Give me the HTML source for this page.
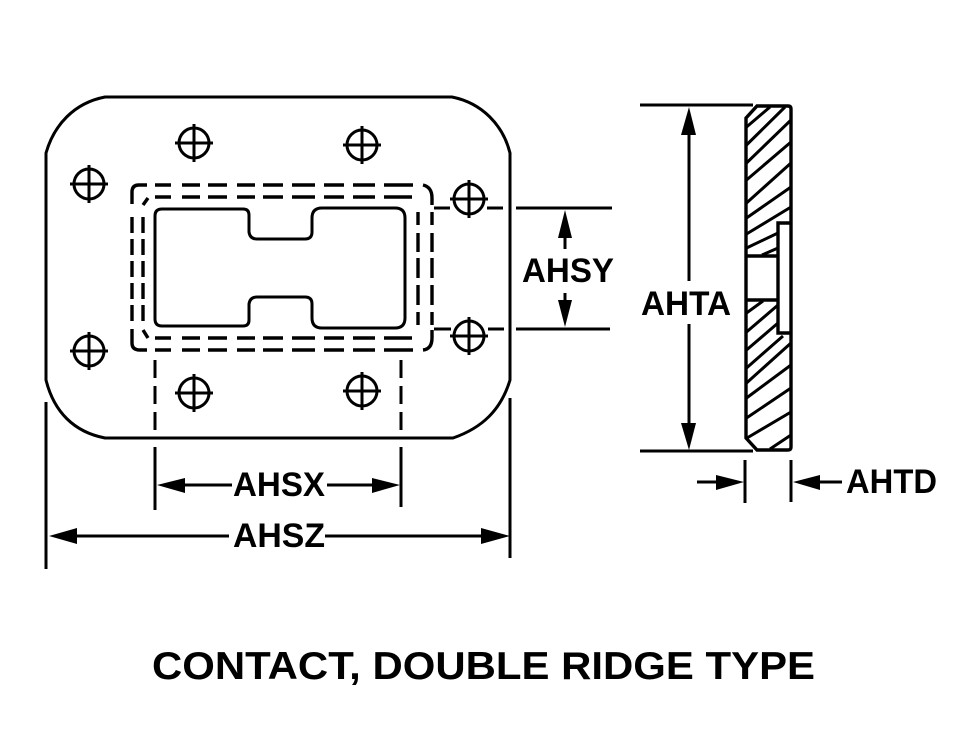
<!DOCTYPE html>
<html>
<head>
<meta charset="utf-8">
<style>
html,body{margin:0;padding:0;background:#fff;width:972px;height:744px;overflow:hidden}
svg{display:block}
text{font-family:"Liberation Sans",sans-serif;font-weight:bold;fill:#000}
</style>
</head>
<body>
<svg width="972" height="744" viewBox="0 0 972 744" xmlns="http://www.w3.org/2000/svg">
<rect width="972" height="744" fill="#fff"/>
<g fill="none" stroke="#000" stroke-width="3">
  <!-- Plate outline -->
  <path d="M105 97H452C482 103 503 125 510 153V380C501 410 482 428 453 438H105C74 432 54 412 46 380V153C54 125 74 103 105 97Z"/>
  <!-- Opening -->
  <path d="M162 209H243Q249 209 249 215V232Q250 239 257 239H305Q312 239 312 232V218Q312 208 322 208H395Q405 208 405 218V318Q405 328 395 328H322Q312 328 312 318V304Q312 297 305 297H257Q250 297 249 304V320Q249 326 243 326H162Q155 326 155 319V216Q155 209 162 209Z"/>
  <g stroke-width="3.4">
    <path d="M147 185H139Q132 185 132 192V204"/>
    <path d="M155 185H171M182 185H200M208 185H227M237 185H255M263 185H283M292 185H315M324 185H344M353 185H375M384 185H413"/>
    <path d="M423 185Q432 187 432 198V205"/>
    <path d="M132 217V321" stroke-dasharray="16 6"/>
    <path d="M132 329V343Q132 350 140 350H147"/>
    <path d="M155 350H171M182 350H200M208 350H227M237 350H255M263 350H283M292 350H315M324 350H344M353 350H375M384 350H413"/>
    <path d="M423 350Q432 349 432 338V330"/>
    <path d="M432 212V225M432 233V252M432 258V278M432 285V305M432 312V325"/>
    <path d="M143 217V321" stroke-dasharray="16 6"/>
    <path d="M143 205L148 198"/>
    <path d="M143 330L148 338"/>
    <path d="M155 197H171M182 197H200M208 197H227M237 197H255M263 197H283M292 197H315M324 197H344M353 197H375M384 197H412"/>
    <path d="M155 338H171M182 338H200M208 338H227M237 338H255M263 338H283M292 338H315M324 338H344M353 338H375M384 338H412"/>
    <path d="M418 212V225M418 233V252M418 258V278M418 285V305M418 312V325"/>
  </g>
  <!-- Holes -->
  <g stroke-width="3">
    <circle cx="194" cy="143" r="15"/><path d="M175 143H213M194 124V162"/>
    <circle cx="362" cy="145" r="15"/><path d="M343 145H381M362 126V164"/>
    <circle cx="89" cy="184" r="15"/><path d="M70 184H108M89 165V203"/>
    <circle cx="469" cy="199" r="15"/><path d="M450 199H488M469 180V218"/>
    <circle cx="89" cy="351" r="15"/><path d="M70 351H108M89 332V370"/>
    <circle cx="469" cy="336" r="15"/><path d="M450 336H488M469 317V355"/>
    <circle cx="194" cy="393" r="15"/><path d="M175 393H213M194 374V412"/>
    <circle cx="362" cy="391" r="15"/><path d="M343 391H381M362 372V410"/>
  </g>
  <!-- Side view -->
  <path stroke-width="3.4" d="M757 106H788Q791 106 791 109V447Q791 450 788 450H757L746 438V118Z"/>
  <path stroke-width="3.4" d="M791 223H778V333H791M746 256H778M746 300H778"/>
  <path stroke-width="3" d="M746.5 127L770 107M746.5 145L785 107M746.5 163L791 120M746.5 180L791 142M746.5 203L791 163M746.5 218L791 187M746.5 234L791 207M746.5 248L778 233M762 255L778 248"/>
  <path stroke-width="3" d="M746.5 313L763 301M746.5 332L778 305M746.5 350L778 323M746.5 368L783 336M746.5 383L791 343M746.5 398L791 365M746.5 418L791 388M747 438L791 412M770 449L791 435"/>
  <!-- Extension lines -->
  <path d="M46 402V569M510 398V558"/>
  <path d="M155 360V430" stroke-dasharray="18 8"/>
  <path d="M401 360V430" stroke-dasharray="18 8"/>
  <path d="M155 447V510M401 447V507"/>
  <path d="M434 208H450M487 208H503M516 208H612"/>
  <path d="M434 329H451M488 329H504M516 329H610"/>
  <path d="M640 105H753M640 451H753"/>
  <path d="M745 460V503M791 460V502"/>
  <!-- Dimension lines -->
  <path d="M175 485H232M327 485H385"/>
  <path d="M70 536H229M325 536H495"/>
  <path d="M565 230V249M565 293V310"/>
  <path d="M689 125V281M689 324V435"/>
  <path d="M697 482H725M810 482H842"/>
</g>
<g fill="#000" stroke="none">
  <!-- Arrowheads -->
  <path d="M157 485L185 478V493Z"/>
  <path d="M400 485L372 478V493Z"/>
  <path d="M49 536L77 528V544Z"/>
  <path d="M510 536L481 528V544Z"/>
  <path d="M565 210L558 238H572Z"/>
  <path d="M565 327L558 300H572Z"/>
  <path d="M689 107L681 135H696Z"/>
  <path d="M689 450L681 423H696Z"/>
  <path d="M744 482L716 475V490Z"/>
  <path d="M793 482L820 475V490Z"/>
</g>
<g font-size="34">
  <text x="233" y="496" textLength="92" lengthAdjust="spacingAndGlyphs">AHSX</text>
  <text x="233" y="547" textLength="92" lengthAdjust="spacingAndGlyphs">AHSZ</text>
  <text x="522" y="282" textLength="92" lengthAdjust="spacingAndGlyphs">AHSY</text>
  <text x="641" y="315" textLength="90" lengthAdjust="spacingAndGlyphs">AHTA</text>
  <text x="846" y="493" textLength="91" lengthAdjust="spacingAndGlyphs">AHTD</text>
</g>
<text x="152" y="679" font-size="39" textLength="663" lengthAdjust="spacingAndGlyphs">CONTACT, DOUBLE RIDGE TYPE</text>
</svg>
</body>
</html>
